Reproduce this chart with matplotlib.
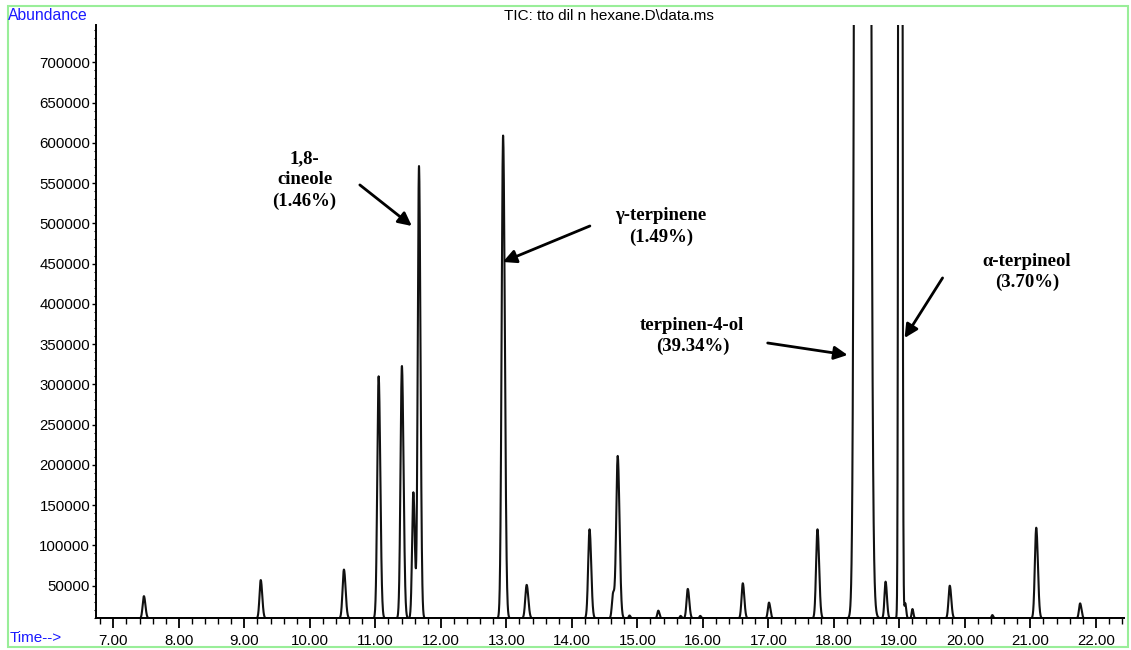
import matplotlib
matplotlib.use("Agg")
import matplotlib.pyplot as plt
import numpy as np

# peak table: retention time (min), apex abundance, width (min)
peak_times = [7.466, 9.25, 10.52, 11.05, 11.405, 11.58, 11.666, 12.95, 13.31,
              14.27, 14.63, 14.70, 14.88, 15.32, 15.66, 15.77, 15.96, 16.61,
              17.01, 17.75, 18.427, 18.56, 18.79, 19.012, 19.09, 19.20, 19.77,
              20.42, 21.09, 21.76]
peak_heights = [37000, 57000, 70000, 310000, 323000, 166000, 571000, 609000, 51000,
                120000, 40000, 211000, 13000, 19000, 12500, 46000, 12500, 53000,
                29000, 120000, 30000000, 25000, 55000, 10000000, 28000, 21000, 50000,
                13500, 122000, 28000]
peak_widths = [0.019, 0.019, 0.021, 0.021, 0.021, 0.019, 0.019, 0.022, 0.021,
               0.021, 0.018, 0.023, 0.012, 0.015, 0.012, 0.019, 0.012, 0.019,
               0.017, 0.021, 0.045, 0.04, 0.017, 0.014, 0.012, 0.012, 0.019,
               0.012, 0.021, 0.017]
baseline = 9500

y_ticks = np.arange(50000, 700001, 50000)
x_ticks = np.arange(7, 22.01, 1.0)

labels = ["1,8-\ncineole\n(1.46%)", "\u03b3-terpinene\n(1.49%)",
          "terpinen-4-ol\n(39.34%)", "\u03b1-terpineol\n(3.70%)"]
arrow_tips = [(11.557, 496700), (12.946, 452000), (18.21, 336500), (19.08, 357600)]
arrow_tails = [(10.763, 547700), (14.275, 496700), (16.99, 351400), (19.66, 432200)]
text_pos = [(9.92, 553900), (15.36, 496000), (15.84, 360100), (20.95, 439600)]

t = np.arange(6.73, 22.43, 0.002)
signal = np.full_like(t, baseline, dtype=float)
for t0, h, w in zip(peak_times, peak_heights, peak_widths):
    s = np.where(t < t0, w, w * 1.2)
    signal += (h - baseline) * np.exp(-0.5 * ((t - t0) / s) ** 2)

fig = plt.figure(figsize=(11.31, 6.5), dpi=100)
ax = fig.add_axes([95.7 / 1131, 1 - 618.3 / 650, (1124 - 95.7) / 1131, (618.3 - 25) / 650])
ax.plot(t, signal, color="#111111", lw=1.5)
ax.set_xlim(6.73, 22.43)
ax.set_ylim(baseline, 746300)

for sp in ["top", "right"]:
    ax.spines[sp].set_visible(False)
ax.spines["left"].set_linewidth(1.4)
ax.spines["bottom"].set_linewidth(1.4)

ax.set_xticks(x_ticks)
ax.set_xticklabels(["%.2f" % v for v in x_ticks])
ax.set_xticks(np.arange(6.8, 22.41, 0.2), minor=True)
ax.set_yticks(y_ticks)
ax.set_yticklabels(["%d" % v for v in y_ticks])
ax.set_yticks(np.arange(10000, 746000, 10000), minor=True)
ax.tick_params(axis="x", which="major", length=7, width=1.3, pad=4, labelsize=10.8)
ax.tick_params(axis="x", which="minor", length=4, width=1.0)
ax.tick_params(axis="y", which="major", length=3, width=1.0, pad=1, labelsize=10.8)
ax.tick_params(axis="y", which="minor", length=1.5, width=0.8)
for lab in ax.get_xticklabels() + ax.get_yticklabels():
    lab.set_fontfamily("Liberation Sans")

for lab, tip, tail, pos in zip(labels, arrow_tips, arrow_tails, text_pos):
    ax.annotate("", xy=tip, xytext=tail,
                arrowprops=dict(arrowstyle="-|>", lw=2, color="black",
                                mutation_scale=20, shrinkA=0, shrinkB=0))
    ax.text(pos[0], pos[1], lab, ha="center", va="center", fontsize=13.5,
            fontweight="bold", family="Liberation Serif", linespacing=1.3)

fig.text(8 / 1131, 1 - 15 / 650, "Abundance", color="#1a1aff", fontsize=11.3,
         family="Liberation Sans", va="center", ha="left")
fig.text(10 / 1131, 1 - 638 / 650, "Time-->", color="#1a1aff", fontsize=11,
         family="Liberation Sans", va="center", ha="left")
fig.text(609 / 1131, 1 - 16 / 650, "TIC: tto dil n hexane.D\\data.ms", color="black",
         fontsize=11, family="Liberation Sans", va="center", ha="center")

fig.patches.append(plt.Rectangle((8 / 1131, 3 / 650), 1120 / 1131, 641 / 650,
                                 transform=fig.transFigure, fill=False,
                                 edgecolor="#99ee99", lw=1.5))

fig.savefig("out.png", dpi=100)
